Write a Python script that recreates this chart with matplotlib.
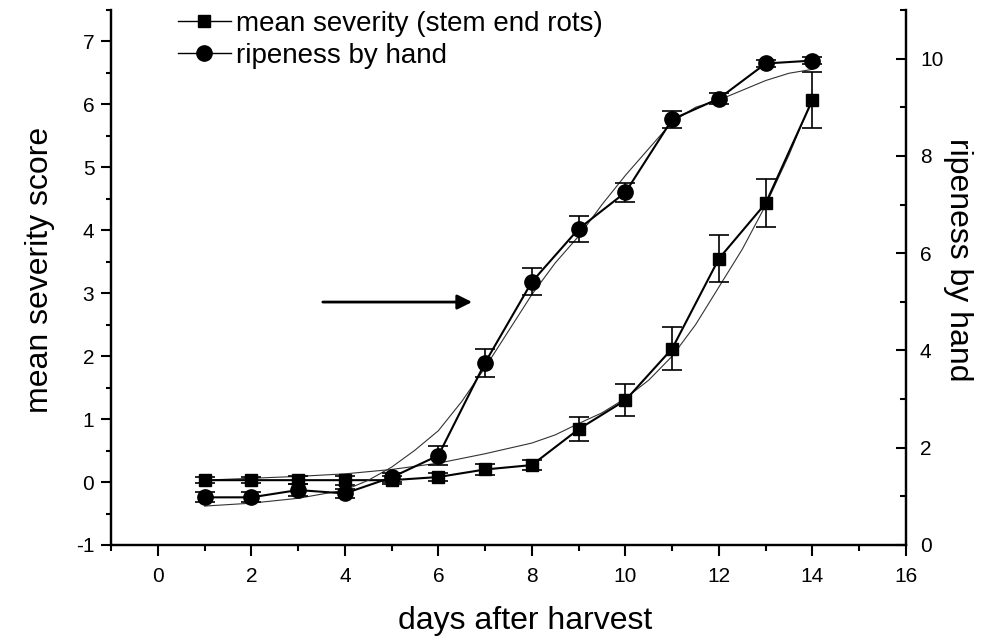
import matplotlib.pyplot as plt
from matplotlib.lines import Line2D
from matplotlib.ticker import MultipleLocator

plt.rcParams['font.family'] = ['Liberation Sans', 'DejaVu Sans']
plt.rcParams['axes.unicode_minus'] = False

days = [1, 2, 3, 4, 5, 6, 7, 8, 9, 10, 11, 12, 13, 14]
severity = [0.03, 0.03, 0.03, 0.03, 0.03, 0.08, 0.2, 0.27, 0.84, 1.3, 2.12, 3.55, 4.43, 6.07]
severity_err = [0.05, 0.05, 0.06, 0.07, 0.06, 0.06, 0.08, 0.08, 0.19, 0.25, 0.34, 0.37, 0.38, 0.44]
ripeness = [0.98, 0.98, 1.13, 1.06, 1.39, 1.84, 3.75, 5.41, 6.5, 7.25, 8.75, 9.18, 9.9, 9.96]
ripeness_err = [0.1, 0.1, 0.12, 0.1, 0.1, 0.2, 0.29, 0.28, 0.26, 0.2, 0.18, 0.12, 0.08, 0.08]

# fitted curves
sev_fit_days = [1, 2, 3, 4, 5, 6, 7, 8, 8.5, 9, 9.5, 10, 10.5, 11, 11.5, 12, 12.5, 13, 13.5, 14]
sev_fit = [0.03, 0.06, 0.09, 0.13, 0.2, 0.3, 0.45, 0.62, 0.75, 0.93, 1.1, 1.33, 1.62, 2.0, 2.5, 3.1, 3.7, 4.4, 5.2, 6.1]
rip_fit_days = [1, 2, 3, 4, 4.5, 5, 5.5, 6, 6.5, 7, 7.5, 8, 8.5, 9, 9.5, 10, 10.5, 11, 11.5, 12, 12.5, 13, 13.5, 14]
rip_fit = [0.8, 0.86, 0.96, 1.13, 1.33, 1.6, 1.95, 2.35, 2.95, 3.65, 4.4, 5.15, 5.8, 6.35, 7.0, 7.6, 8.15, 8.7, 9.0, 9.15, 9.35, 9.55, 9.7, 9.78]

fig = plt.figure(figsize=(9.86, 6.38), dpi=100)
ax = fig.add_axes([111 / 986, 1 - 545 / 638, 795 / 986, 535 / 638])
ax2 = ax.twinx()

# left axis: severity
ax.plot(sev_fit_days, sev_fit, color='#333333', lw=0.8)
ax.errorbar(days, severity, yerr=severity_err, fmt='none', ecolor='black',
            elinewidth=1.2, capsize=7.5, capthick=1.2)
ln1, = ax.plot(days, severity, 'ks-', lw=1.5, ms=9,
               label='mean severity (stem end rots)')

# right axis: ripeness
ax2.plot(rip_fit_days, rip_fit, color='#333333', lw=0.8)
ax2.errorbar(days, ripeness, yerr=ripeness_err, fmt='none', ecolor='black',
             elinewidth=1.2, capsize=7.5, capthick=1.2)
ln2, = ax2.plot(days, ripeness, 'ko-', lw=1.5, ms=11, label='ripeness by hand')

ax.set_xlim(-1, 16)
ax.set_ylim(-1, 7.5)
ax2.set_ylim(0, 11)

ax.xaxis.set_major_locator(MultipleLocator(2))
ax.xaxis.set_minor_locator(MultipleLocator(1))
ax.yaxis.set_major_locator(MultipleLocator(1))
ax.yaxis.set_minor_locator(MultipleLocator(0.5))
ax2.yaxis.set_major_locator(MultipleLocator(2))
ax2.yaxis.set_minor_locator(MultipleLocator(1))

for a in (ax, ax2):
    a.spines['top'].set_visible(False)
    for s in a.spines.values():
        s.set_linewidth(1.6)

ax.tick_params(axis='x', which='major', direction='out', length=8, width=1.5,
               labelsize=15, pad=8)
ax.tick_params(axis='x', which='minor', direction='out', length=4.5, width=1.5)
ax.tick_params(axis='y', which='major', direction='out', length=7, width=1.5,
               labelsize=15, pad=5)
ax.tick_params(axis='y', which='minor', direction='out', length=3.5, width=1.5)
ax2.tick_params(axis='y', which='major', direction='in', length=7, width=1.5,
                labelsize=15, pad=10)
ax2.tick_params(axis='y', which='minor', direction='in', length=4.5, width=1.5)

ax.annotate('', xy=(6.78, 2.86), xytext=(3.47, 2.86),
            arrowprops=dict(arrowstyle='-|>', lw=2, color='black', mutation_scale=22))

fig.text(40 / 986, 1 - 270 / 638, 'mean severity score', rotation=90,
         ha='center', va='center', fontsize=23)
fig.text(958 / 986, 1 - 260 / 638, 'ripeness by hand', rotation=270,
         ha='center', va='center', fontsize=23)
fig.text(525 / 986, 1 - 621 / 638, 'days after harvest',
         ha='center', va='center', fontsize=23)

handles = [Line2D([], [], color='black', lw=1, marker='s', ms=9),
           Line2D([], [], color='black', lw=1, marker='o', ms=11)]
ax2.legend(handles, ['mean severity (stem end rots)', 'ripeness by hand'],
           loc='upper left', bbox_to_anchor=(0.084, 0.998), frameon=False,
           fontsize=20, handlelength=1.9, handletextpad=0.2,
           labelspacing=0.2, borderpad=0, borderaxespad=0)

fig.savefig('out.png', dpi=100)
